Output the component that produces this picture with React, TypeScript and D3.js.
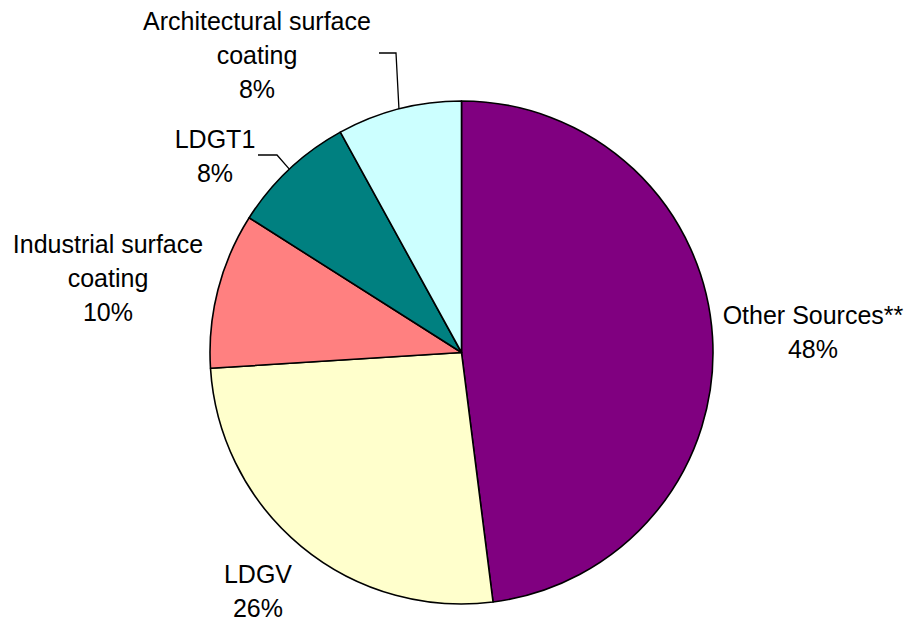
import React from "react";
import * as d3 from "d3";

const categories = ["Other Sources**", "LDGV", "Industrial surface coating", "LDGT1", "Architectural surface coating"];
const values = [48, 26, 10, 8, 8];
const colors = ["#800080", "#FFFFCC", "#FF8080", "#008080", "#CCFFFF"];
const labelLines = [
  ["Other Sources**", "48%"],
  ["LDGV", "26%"],
  ["Industrial surface", "coating", "10%"],
  ["LDGT1", "8%"],
  ["Architectural surface", "coating", "8%"],
];
// label anchor (center x, first baseline y)
const labelPos: [number, number][] = [
  [813, 324],
  [258, 583],
  [108, 253],
  [215, 148],
  [257, 30],
];

export default function App() {
  const W = 910, H = 621;
  const cx = 461.5, cy = 352.5, r = 251.5;
  const pie = d3.pie<number>().sort(null).value((d) => d);
  const arcs = pie(values);
  const arc = d3.arc<d3.PieArcDatum<number>>().innerRadius(0).outerRadius(r);
  const lineH = 34;

  const outer = (a: number): [number, number] => [cx + r * Math.sin(a), cy - r * Math.cos(a)];
  const ldgt1 = arcs[3];
  const arch = arcs[4];
  const pL = outer((ldgt1.startAngle + ldgt1.endAngle) / 2);
  const pA = outer((arch.startAngle + arch.endAngle) / 2);

  return (
    <svg width={W} height={H} style={{ position: "absolute", left: 0, top: 0 }}>
      <rect width={W} height={H} fill="#fff" />
      <g transform={`translate(${cx},${cy})`}>
        {arcs.map((a, i) => (
          <path key={i} d={arc(a) || ""} fill={colors[i]} stroke="#000" strokeWidth={1.6} strokeLinejoin="round" />
        ))}
      </g>
      <polyline points={`258,155 277,155 ${pL[0]},${pL[1]}`} fill="none" stroke="#000" strokeWidth={1.3} />
      <polyline points={`379,53 396,53 ${pA[0]},${pA[1]}`} fill="none" stroke="#000" strokeWidth={1.3} />
      {labelLines.map((lines, i) => (
        <text key={categories[i]} x={labelPos[i][0]} y={labelPos[i][1]} textAnchor="middle"
          fontFamily="Liberation Sans, Arial, sans-serif" fontSize={25} fill="#000">
          {lines.map((l, j) => (
            <tspan key={j} x={labelPos[i][0]} y={labelPos[i][1] + j * lineH}>{l}</tspan>
          ))}
        </text>
      ))}
    </svg>
  );
}
